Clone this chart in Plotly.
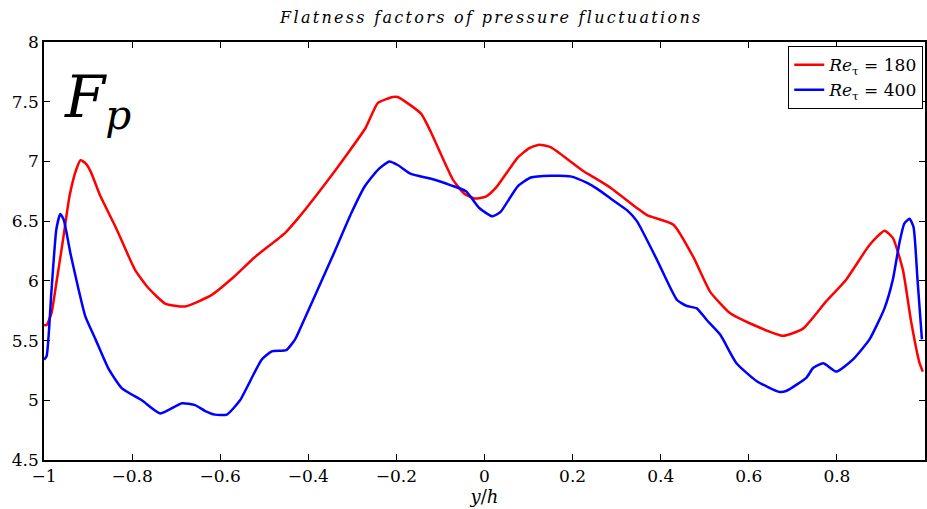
import plotly.graph_objects as go

# Re_tau = 180 (red)
x_180 = [-1.0, -0.994, -0.983, -0.972, -0.957, -0.942, -0.927, -0.917, -0.906, -0.894,
         -0.872, -0.838, -0.793, -0.763, -0.725, -0.68, -0.62, -0.57, -0.521, -0.453,
         -0.423, -0.355, -0.314, -0.27, -0.242, -0.208, -0.197, -0.144, -0.121, -0.072,
         -0.046, -0.023, 0.003, 0.026, 0.075, 0.101, 0.124, 0.15, 0.195, 0.226,
         0.256, 0.286, 0.346, 0.369, 0.429, 0.474, 0.512, 0.557, 0.602, 0.678,
         0.723, 0.776, 0.821, 0.874, 0.908, 0.927, 0.95, 0.968, 0.987, 0.995]
y_180 = [5.63, 5.63, 5.73, 5.98, 6.34, 6.71, 6.93, 7.01, 6.985, 6.915,
         6.71, 6.455, 6.09, 5.94, 5.81, 5.785, 5.88, 6.03, 6.20, 6.40,
         6.525, 6.845, 7.05, 7.28, 7.49, 7.54, 7.54, 7.40, 7.24, 6.85,
         6.73, 6.69, 6.705, 6.78, 7.03, 7.11, 7.14, 7.12, 7.00, 6.915,
         6.85, 6.78, 6.61, 6.55, 6.47, 6.20, 5.91, 5.73, 5.645, 5.54,
         5.60, 5.83, 6.01, 6.30, 6.42, 6.36, 6.09, 5.67, 5.32, 5.24]

# Re_tau = 400 (blue)
x_400 = [-1.0, -0.994, -0.983, -0.972, -0.963, -0.955, -0.94, -0.921, -0.906, -0.883,
         -0.853, -0.823, -0.778, -0.736, -0.687, -0.657, -0.634, -0.612, -0.585, -0.555,
         -0.506, -0.483, -0.45, -0.43, -0.416, -0.348, -0.302, -0.272, -0.242, -0.216,
         -0.197, -0.167, -0.121, -0.076, -0.042, -0.012, 0.018, 0.037, 0.075, 0.105,
         0.15, 0.195, 0.233, 0.256, 0.29, 0.324, 0.346, 0.391, 0.437, 0.459,
         0.482, 0.505, 0.535, 0.572, 0.618, 0.67, 0.686, 0.731, 0.746, 0.769,
         0.799, 0.836, 0.874, 0.908, 0.927, 0.942, 0.953, 0.965, 0.974, 0.983, 0.993]
y_400 = [5.34, 5.37, 5.92, 6.43, 6.56, 6.51, 6.23, 5.92, 5.70, 5.51,
         5.26, 5.10, 5.00, 4.89, 4.975, 4.96, 4.91, 4.88, 4.88, 5.00,
         5.34, 5.41, 5.42, 5.51, 5.62, 6.18, 6.57, 6.79, 6.93, 7.00,
         6.97, 6.895, 6.855, 6.80, 6.75, 6.61, 6.54, 6.58, 6.79, 6.865,
         6.88, 6.875, 6.82, 6.77, 6.68, 6.59, 6.50, 6.18, 5.84, 5.79,
         5.77, 5.67, 5.55, 5.31, 5.16, 5.07, 5.08, 5.19, 5.27, 5.31,
         5.24, 5.34, 5.51, 5.77, 6.01, 6.32, 6.48, 6.52, 6.45, 6.01, 5.51]

x_tickvals = [-1, -0.8, -0.6, -0.4, -0.2, 0, 0.2, 0.4, 0.6, 0.8]
x_ticktext = ["\u22121", "\u22120.8", "\u22120.6", "\u22120.4", "\u22120.2", "0", "0.2", "0.4", "0.6", "0.8"]
y_tickvals = [4.5, 5, 5.5, 6, 6.5, 7, 7.5, 8]
y_ticktext = ["4.5", "5", "5.5", "6", "6.5", "7", "7.5", "8"]

serif = "DejaVu Serif"

fig = go.Figure()
fig.add_trace(go.Scatter(x=x_180, y=y_180, mode="lines",
                         line=dict(color="#ff0000", width=2.5, shape="spline", smoothing=0.5),
                         name="<i>Re</i><sub>\u03c4</sub> = 180"))
fig.add_trace(go.Scatter(x=x_400, y=y_400, mode="lines",
                         line=dict(color="#0000ff", width=2.5, shape="spline", smoothing=0.5),
                         name="<i>Re</i><sub>\u03c4</sub> = 400"))

axis_common = dict(showline=True, linecolor="black", linewidth=1.5, mirror="ticks",
                   ticks="inside", ticklen=6, tickcolor="black", tickwidth=1,
                   showgrid=False, zeroline=False,
                   tickfont=dict(family=serif, size=17, color="black"))

fig.update_xaxes(range=[-1, 1], tickvals=x_tickvals, ticktext=x_ticktext,
                 title=dict(text="<i>y</i>/<i>h</i>", font=dict(family=serif, size=18, color="black"),
                            standoff=4),
                 **axis_common)
fig.update_yaxes(range=[4.5, 8], tickvals=y_tickvals, ticktext=y_ticktext, **axis_common)

fig.add_annotation(xref="paper", yref="paper", x=0.02, y=0.955, xanchor="left", yanchor="top",
                   text="<i>F</i><sub><i>p</i></sub>", showarrow=False,
                   font=dict(family=serif, size=58, color="black"))

fig.update_layout(
    width=927, height=509,
    margin=dict(l=44, r=0, t=42, b=49),
    paper_bgcolor="white", plot_bgcolor="white",
    title=dict(text='<span style="letter-spacing:2.3px"><i>Flatness factors of pressure fluctuations</i></span>',
               x=0.53, xanchor="center", y=0.965, yanchor="middle",
               font=dict(family=serif, size=16, color="black")),
    legend=dict(x=0.998, xanchor="right", y=0.99, yanchor="top",
                bordercolor="black", borderwidth=1, bgcolor="white",
                font=dict(family=serif, size=17, color="black"),
                tracegroupgap=0, itemwidth=30),
    showlegend=True,
)

fig.write_html("out.html")
